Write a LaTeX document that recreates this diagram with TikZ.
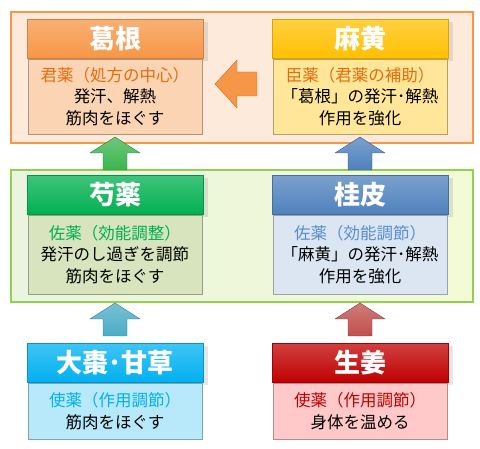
\documentclass[tikz,border=0pt]{standalone}
\usepackage{fontspec}
\setmainfont{Noto Sans CJK JP}
\usetikzlibrary{positioning,shadows}

\definecolor{kkOrange}{HTML}{F79646}
\definecolor{kkBody}{HTML}{FBD4B4}
\definecolor{kkText}{HTML}{E46C0A}
\definecolor{maGold}{HTML}{FFC000}
\definecolor{maBody}{HTML}{FFE699}
\definecolor{shGreen}{HTML}{00B050}
\definecolor{shBody}{HTML}{D7E4BD}
\definecolor{kpBlue}{HTML}{4F81BD}
\definecolor{kpBody}{HTML}{DCE6F2}
\definecolor{kpText}{HTML}{558ED5}
\definecolor{tsCyan}{HTML}{00B0F0}
\definecolor{tsBody}{HTML}{B7E9FA}
\definecolor{sgRed}{HTML}{C00000}
\definecolor{sgBody}{HTML}{FFC9C9}
\definecolor{arTeal}{HTML}{4BACC6}
\definecolor{arRed}{HTML}{C0504D}
\definecolor{arGreen}{HTML}{3CB54E}
\definecolor{frGreen}{HTML}{92D050}
\definecolor{frLeft}{HTML}{EAF4DE}
\definecolor{frRight}{HTML}{F2FAD6}

% block arrow pointing up, tip at #2
\newcommand\blkup[2]{\draw[#1!70!black, top color=#1!75!white, bottom color=#1]
  (#2) -- ++(25,16) -- ++(-13,0) -- ++(0,17) -- ++(-24,0) -- ++(0,-17) -- ++(-13,0) -- cycle;}

\begin{document}
\begin{tikzpicture}[x=1pt,y=-1pt,
    headbox/.style={minimum width=176pt, minimum height=39pt, inner sep=0pt,
      font=\fontsize{26}{26}\selectfont\bfseries, text=white,
      draw=#1!85!black, line width=0.4pt, top color=#1!75!white, bottom color=#1,
      drop shadow={opacity=0.2, shadow xshift=5pt, shadow yshift=-3pt}},
    bodybox/.style={minimum width=174pt, inner sep=0pt, fill=#1,
      draw=#1!70!black, line width=0.4pt, align=center,
      font=\fontsize{16.5}{21.5}\selectfont}]
  \useasboundingbox (0,0) rectangle (480,449);

  % frames
  \draw[kkOrange, line width=1.5pt, fill=kkOrange!20] (11,12) rectangle (473,143);
  \draw[frGreen, line width=1.2pt, left color=frLeft, right color=frRight]
    (11,170) rectangle (473,302);

  % top row
  \node[headbox=kkOrange] (kakkon) at (115,39) {葛根};
  \node[bodybox=kkBody, minimum height=75pt, below=0pt of kakkon] (kakkon-b)
    {\textcolor{kkText}{君薬（処方の中心）}\\発汗、解熱\\筋肉をほぐす};
  \node[headbox=maGold] (mao) at (360,39) {麻黄};
  \node[bodybox=maBody, minimum height=75pt, below=0pt of mao] (mao-b)
    {\textcolor{kkText}{臣薬（君薬の補助）}\\「葛根」の発汗･解熱\\作用を強化};

  % middle row
  \node[headbox=shGreen] (shakuyaku) at (115,195) {芍薬};
  \node[bodybox=shBody, minimum height=79pt, below=0pt of shakuyaku] (shakuyaku-b)
    {\textcolor{shGreen}{佐薬（効能調整）}\\発汗のし過ぎを調節\\筋肉をほぐす};
  \node[headbox=kpBlue] (keihi) at (360,195) {桂皮};
  \node[bodybox=kpBody, minimum height=79pt, below=0pt of keihi] (keihi-b)
    {\textcolor{kpText}{佐薬（効能調節）}\\「麻黄」の発汗･解熱\\作用を強化};

  % bottom row
  \node[headbox=tsCyan] (taiso) at (115,363) {大棗･甘草};
  \node[bodybox=tsBody, minimum height=56pt, below=0pt of taiso] (taiso-b)
    {\textcolor{tsCyan}{使薬（作用調節）}\\筋肉をほぐす};
  \node[headbox=sgRed] (shokyo) at (360,363) {生姜};
  \node[bodybox=sgBody, minimum height=56pt, below=0pt of shokyo] (shokyo-b)
    {\textcolor{sgRed}{使薬（作用調節）}\\身体を温める};

  % arrows
  \coordinate (lt) at (215,84);
  \draw[kkOrange!75!black, fill=kkOrange] (lt) -- ++(22,-24) -- ++(0,12) -- ++(20,0)
    -- ++(0,24) -- ++(-20,0) -- ++(0,12) -- cycle;
  \blkup{arGreen}{115,137}
  \blkup{kpBlue}{360,137}
  \blkup{arTeal}{115,303}
  \blkup{arRed}{360,303}
\end{tikzpicture}
\end{document}
